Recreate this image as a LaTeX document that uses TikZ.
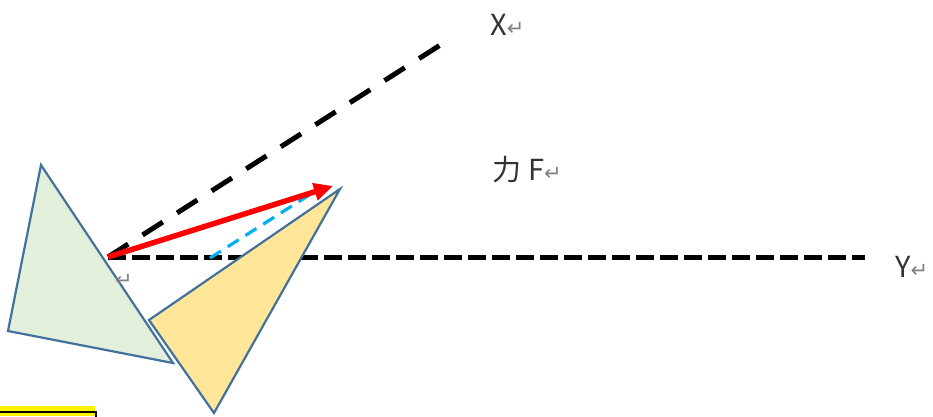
\documentclass[tikz,border=0pt]{standalone}
\usepackage{fontspec}
\newfontfamily\cjk{Noto Sans CJK JP}
\newfontfamily\symb{DejaVu Sans}
\usetikzlibrary{arrows.meta}
\definecolor{bord}{HTML}{41719C}
\definecolor{vert}{HTML}{E2EFDA}
\definecolor{jaune}{HTML}{FFE699}
\definecolor{cyan}{HTML}{00B0F0}
\newcommand{\retmark}{{\symb\fontsize{21}{21}\selectfont\color{black!50}↵}}
\tikzset{
  axe/.style={line width=5pt, black},
  lbl/.style={anchor=base west, inner sep=0pt, text=black!80, font=\cjk\fontsize{29}{29}\selectfont},
  tri/.style={draw=bord, line width=2.2pt, line join=miter}
}
\begin{document}
\begin{tikzpicture}[x=1pt, y=-1pt]
\useasboundingbox (0,0) rectangle (933,416);
% Points de base
\coordinate (O) at (108,257);
\coordinate (Xend) at (445,42);
\coordinate (Yend) at (865,257);
\coordinate (Ftip) at (333,186);
\coordinate (Bstart) at (210,258);
\coordinate (Bend) at (317,190);

% Axes en pointilles
\draw[axe, dash pattern=on 24pt off 17pt] (O) -- (Xend);
\draw[axe, dash pattern=on 18pt off 6pt] (O) -- (Yend);
\draw[cyan, line width=3.2pt, dash pattern=on 13pt off 8pt] (Bstart) -- (Bend);
\draw[red, line width=5.5pt, -{Triangle[length=19pt,width=17pt]}] (O) -- (Ftip);

% Les deux triangles
\draw[tri, fill=vert] (41,165) -- (8,331) -- (173,363) -- cycle;
\draw[tri, fill=jaune] (340,189) -- (149,320) -- (214,413) -- cycle;

% Textes
\node[lbl] (labX) at (490,35) {X\retmark};
\node[lbl] (labF) at (492,180) {力\hspace{7pt}F\retmark};
\node[lbl] (labY) at (895,277) {Y\retmark};
\node[lbl] (labO) at (115,287) {\retmark};

% Cadre jaune en bas
\fill[yellow] (0,406) rectangle (95,416);
\draw[line width=2pt] (0,412) -- (96,412) -- (96,417);
\end{tikzpicture}
\end{document}
